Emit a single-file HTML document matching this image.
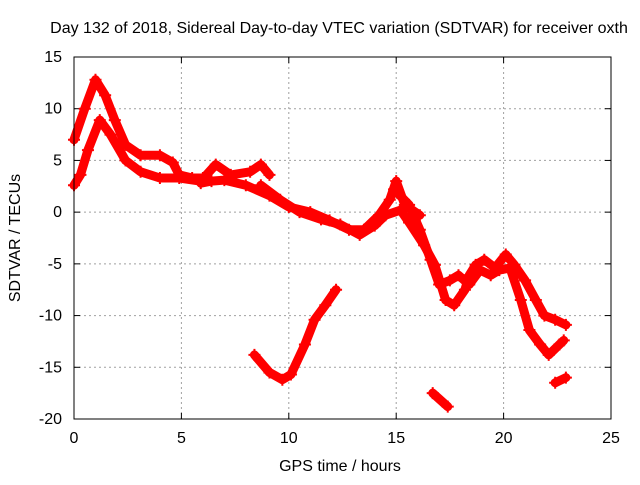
<!DOCTYPE html>
<html><head><meta charset="utf-8"><style>
body{margin:0;background:#fff}
svg text{font-family:"Liberation Sans",sans-serif;font-size:16px;fill:#000}
</style></head><body>
<svg id="chart" width="640" height="480" xmlns="http://www.w3.org/2000/svg">
<text x="339" y="33" text-anchor="middle">Day 132 of 2018, Sidereal Day-to-day VTEC variation (SDTVAR) for receiver oxth</text>
<text x="340" y="471" text-anchor="middle">GPS time / hours</text>
<text x="20" y="238" text-anchor="middle" transform="rotate(-90 20 238)">SDTVAR / TECUs</text>
<g id="grid"></g><g id="ticks"></g><g id="series"></g>
<rect x="74" y="57" width="537" height="362" fill="none" stroke="#000" stroke-width="1"/>
</svg>
<script>
const xTicks=[0,5,10,15,20,25];
const yTicks=[-20,-15,-10,-5,0,5,10,15];
const track1=[[0,7],[0.5,10],[1.0,12.8],[1.45,11.3],[1.9,8.9],[2.4,6.5],[3.1,5.5],[4.0,5.5],[4.6,4.8],[4.9,3.6],[5.5,3.3],[6.0,3.3]];
const track2=[[0,2.6],[0.3,3.6],[0.65,6],[1.2,8.9],[1.7,7.5],[2.4,5],[3.1,3.9],[4.0,3.3],[4.9,3.3],[5.9,3],[6.6,4.6],[7.3,3.6],[8.2,3.9],[8.7,4.6],[9.1,3.6]];
const track3=[[5.9,2.8],[6.4,3.0],[7.0,3.1],[8.0,2.6],[9.1,1.6],[10,0.5],[11,0],[11.9,-0.8],[12.8,-1.7],[13.5,-1.7],[14.2,-0.3],[14.7,1.2],[15,3],[15.4,0.7],[16.1,-0.3]];
const track4=[[8.7,2.6],[9.6,1.2],[10.5,0],[11.5,-0.7],[12.4,-1.2],[13.3,-2.2],[14,-1.3],[14.5,-0.3],[15.2,0.2],[15.6,-1],[16.3,-3.2],[16.8,-5.1],[17.3,-8.5],[17.7,-9],[18.2,-7.5],[18.4,-6.1],[18.7,-5.1],[19.1,-4.6],[19.6,-5.4],[20.1,-4.1],[20.5,-5.1],[21,-6.6],[21.5,-8.5],[21.9,-10],[22.4,-10.4],[22.9,-10.9]];
const track5=[[14.9,2.2],[15.6,0.7],[16.1,-1.7],[16.6,-4.6],[17.0,-7],[17.5,-6.6],[17.9,-6.1],[18.4,-7],[18.9,-5.6],[19.4,-6.1],[19.8,-5.6],[20.3,-5.4],[20.8,-8.5],[21.2,-11.4],[21.7,-12.8],[22.1,-13.8],[22.6,-12.8],[22.8,-12.4]];
const track6=[[8.4,-13.8],[9.1,-15.5],[9.7,-16.2],[10.1,-15.7],[10.75,-12.8],[11.2,-10.4],[11.7,-9],[12.2,-7.5]];
const track7=[[16.7,-17.5],[17.4,-18.8]];
const track8=[[22.4,-16.5],[22.9,-16]];
const tracks=[track1,track2,track3,track4,track5,track6,track7,track8];
const NS="http://www.w3.org/2000/svg";
const X0=74,X1=611,Y0=419,Y1=57,xmin=0,xmax=25,ymin=-20,ymax=15;
const sx=v=>X0+(v-xmin)/(xmax-xmin)*(X1-X0);
const sy=v=>Y0-(v-ymin)/(ymax-ymin)*(Y0-Y1);
function mk(t,a,p){const e=document.createElementNS(NS,t);for(const k in a)e.setAttribute(k,a[k]);p.appendChild(e);return e;}
const grid=document.getElementById('grid'),ticks=document.getElementById('ticks'),ser=document.getElementById('series');
xTicks.forEach(v=>{
 if(v>xmin&&v<xmax){const g=mk('line',{x1:sx(v),x2:sx(v),y1:Y1,y2:Y0,stroke:'#a0a0a0','stroke-dasharray':'2,3'},grid);
 
 }
 mk('line',{x1:sx(v),x2:sx(v),y1:Y0,y2:Y0-6,stroke:'#000'},ticks);
 mk('line',{x1:sx(v),x2:sx(v),y1:Y1,y2:Y1+6,stroke:'#000'},ticks);
 const t=mk('text',{x:sx(v),y:Y0+24,'text-anchor':'middle'},ticks);t.textContent=v;
 
 
});
yTicks.forEach(v=>{
 if(v>ymin&&v<ymax){const g=mk('line',{x1:X0,x2:X1,y1:sy(v),y2:sy(v),stroke:'#a0a0a0','stroke-dasharray':'2,3'},grid);
 
 }
 mk('line',{x1:X0,x2:X0+6,y1:sy(v),y2:sy(v),stroke:'#000'},ticks);
 mk('line',{x1:X1,x2:X1-6,y1:sy(v),y2:sy(v),stroke:'#000'},ticks);
 const t=mk('text',{x:X0-12,y:sy(v)+5,'text-anchor':'end'},ticks);t.textContent=v;
 
 
});
tracks.forEach((tr,i)=>{
 const pl=mk('polyline',{points:tr.map(p=>sx(p[0])+','+sy(p[1])).join(' '),fill:'none',stroke:'#f00','stroke-width':9,'stroke-linejoin':'round','stroke-linecap':'round'},ser);
 
 
 tr.forEach(p=>{
  const m=mk('path',{d:`M${sx(p[0])-6},${sy(p[1])}h12M${sx(p[0])},${sy(p[1])-6}v12`,stroke:'#f00','stroke-width':2},ser);
  
  
 });
});
</script>
</body></html>
